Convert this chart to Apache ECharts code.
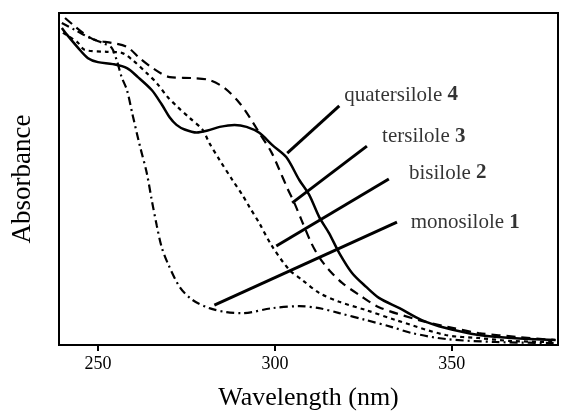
<!DOCTYPE html>
<html>
<head>
<meta charset="utf-8">
<title>Absorbance spectra of oligosiloles</title>
<script src="https://cdn.jsdelivr.net/npm/echarts@6/dist/echarts.min.js"></script>
<style>
  html, body { margin: 0; padding: 0; background: #fff; }
  #chart { width: 561px; height: 413px; }
</style>
</head>
<body>
<div id="chart"></div>
<script>
/* ---- data: [wavelength nm, relative absorbance 0-100] ---- */
const quater4 = [
  [239.8, 95.5], [241.3, 93.4], [244.4, 89.5], [247.2, 86.4], [250.0, 85.2],
  [254.2, 84.6], [258.2, 83.4], [261.3, 80.7], [265.2, 76.8], [268.0, 72.5],
  [270.3, 68.5], [272.2, 66.3], [274.5, 64.9], [277.9, 64.0], [281.0, 64.6],
  [284.4, 65.7], [288.6, 66.3], [292.0, 65.7], [295.6, 63.9], [299.3, 60.2],
  [303.2, 56.6], [306.9, 49.7], [309.7, 45.2], [312.5, 38.6], [315.3, 33.7],
  [318.2, 27.7], [321.8, 21.7], [325.8, 17.5], [329.4, 14.2], [335.2, 11.1],
  [341.5, 7.5], [348.3, 5.1], [357.6, 3.0], [366.9, 2.1], [379.3, 1.5]
];
const ter3 = [
  [240.7, 98.5], [243.0, 96.4], [245.8, 94.0], [249.1, 91.9], [253.9, 91.0],
  [258.2, 89.8], [261.8, 86.4], [265.5, 83.4], [270.3, 80.7], [276.7, 80.4],
  [281.5, 79.8], [285.8, 77.4], [290.0, 72.9], [292.8, 68.7], [295.6, 63.9],
  [299.0, 58.1], [301.3, 52.7], [303.5, 47.3], [305.5, 42.8], [307.5, 37.7],
  [310.3, 30.7], [312.5, 26.5], [315.3, 22.6], [319.0, 18.7], [323.8, 15.1],
  [329.4, 11.4], [340.7, 7.5], [349.1, 5.4], [357.6, 3.6], [368.9, 2.4], [379.3, 1.5]
];
const bi2 = [
  [240.1, 94.0], [244.1, 91.3], [246.3, 88.9], [252.5, 88.3], [256.7, 88.0],
  [259.8, 85.8], [263.8, 81.9], [266.6, 78.9], [269.7, 74.7], [272.5, 71.7],
  [275.9, 68.4], [279.6, 64.8], [281.5, 60.8], [284.4, 55.7], [288.0, 49.7],
  [290.8, 45.2], [292.8, 41.6], [295.6, 36.7], [299.0, 30.1], [304.1, 22.6],
  [307.7, 19.6], [312.5, 15.7], [318.2, 13.0], [325.8, 10.5], [334.2, 7.5],
  [348.3, 3.0], [357.6, 2.1], [366.9, 1.2], [379.3, 0.9]
];
const mono1 = [
  [239.8, 97.0], [243.5, 94.9], [247.7, 92.5], [252.0, 90.7], [253.9, 89.5],
  [255.3, 85.8], [256.7, 80.7], [258.2, 76.8], [259.8, 69.3], [261.8, 60.2],
  [263.8, 51.8], [265.2, 43.7], [266.6, 36.1], [268.0, 29.5], [269.7, 24.7],
  [273.1, 17.5], [276.7, 13.6], [281.5, 11.1], [286.3, 9.9], [290.8, 9.6],
  [299.3, 11.1], [306.9, 11.7], [312.5, 11.1], [318.2, 9.6], [325.8, 7.5],
  [333.1, 5.4], [338.7, 3.6], [348.3, 1.8], [362.4, 0.9], [379.3, 0.6]
];

const xTicks = [250, 300, 350];

/* leader lines: [label end, curve end] and the label anchor */
const labelNames = ["quatersilole", "tersilole", "bisilole", "monosilole"];
const labelNums = ["4", "3", "2", "1"];
const leaders = [
  [[318.2, 72.0], [303.5, 57.8]],
  [[326.0, 59.9], [304.9, 42.8]],
  [[332.2, 50.0], [300.4, 29.8]],
  [[334.5, 37.0], [282.9, 12.0]]
];
const labelAt = [[319.6, 75.3], [330.3, 62.7], [337.9, 51.8], [338.4, 37.0]];

/* ---- styling ---- */
const FONT = "'Liberation Serif', 'DejaVu Serif', serif";
const INK = "#000";

function curve(name, data, type, width) {
  return {
    name, type: "line", data, smooth: 0.3, symbol: "none", silent: true,
    lineStyle: { color: INK, width, type, cap: "butt" }, z: 3
  };
}

const series = [
  curve("quatersilole 4", quater4, "solid", 2.5),
  curve("tersilole 3", ter3, [9, 6], 2.2),
  curve("bisilole 2", bi2, [4, 4], 2.2),
  curve("monosilole 1", mono1, [8, 4, 2, 4], 2.2)
];

leaders.forEach((seg) => {
  series.push({
    type: "line", data: seg, symbol: "none", silent: true,
    lineStyle: { color: INK, width: 3, cap: "butt" }, z: 4
  });
});

series.push({
  type: "scatter", symbolSize: 0, silent: true, z: 5,
  data: labelAt.map((p, i) => ({ value: p, name: labelNames[i], num: labelNums[i] })),
  label: {
    show: true, position: "right", distance: 0,
    formatter: (p) => `{t|${p.data.name} }{b|${p.data.num}}`,
    rich: {
      t: { fontFamily: FONT, fontSize: 21, color: INK },
      b: { fontFamily: FONT, fontSize: 21, fontWeight: "bold", color: INK }
    }
  }
});

const option = {
  animation: false,
  backgroundColor: "#fff",
  grid: {
    left: 59, right: 3, top: 13, bottom: 68,
    outerBoundsMode: "none", containLabel: false,
    show: true, borderColor: INK, borderWidth: 2, backgroundColor: "transparent"
  },
  xAxis: {
    type: "value", min: 239, max: 380,
    name: "Wavelength (nm)", nameLocation: "middle", nameGap: 40,
    nameTextStyle: { fontFamily: FONT, fontSize: 26, color: INK },
    axisLine: { show: true, lineStyle: { color: INK, width: 2 } },
    axisTick: { show: true, length: 6, lineStyle: { color: INK, width: 2 }, customValues: xTicks },
    axisLabel: { fontFamily: FONT, fontSize: 18, color: INK, margin: 10, customValues: xTicks },
    splitLine: { show: false }
  },
  yAxis: {
    type: "value", min: 0, max: 100,
    name: "Absorbance", nameLocation: "middle", nameGap: 23,
    nameTextStyle: { fontFamily: FONT, fontSize: 27, color: INK },
    axisLine: { show: true, lineStyle: { color: INK, width: 2 } },
    axisTick: { show: false },
    axisLabel: { show: false },
    splitLine: { show: false }
  },
  series
};

const chart = echarts.init(document.getElementById("chart"), null, { renderer: "canvas" });
chart.setOption(option);
</script>
</body>
</html>
